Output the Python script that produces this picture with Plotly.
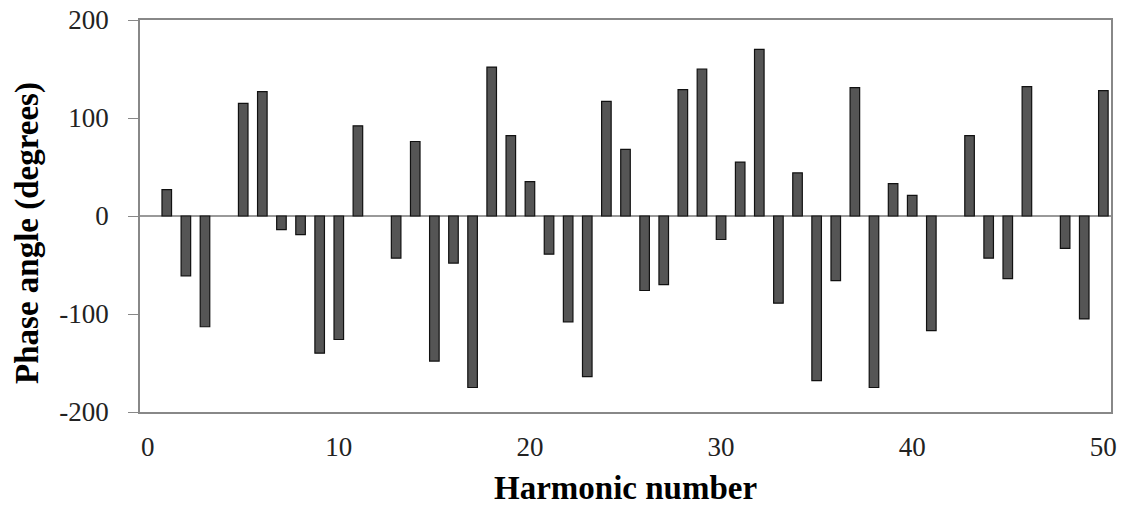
import plotly.graph_objects as go

harmonics = list(range(1, 51))
# None = no visible bar at that harmonic
phase = [27, -61, -113, None, 115, 127, -14, -19, -140, -126,
         92, None, -43, 76, -148, -48, -175, 152, 82, 35,
         -39, -108, -164, 117, 68, -76, -70, 129, 150, -24,
         55, 170, -89, 44, -168, -66, 131, -175, 33, 21,
         -117, None, 82, -43, -64, 132, None, -33, -105, 128]

y_ticks = [-200, -100, 0, 100, 200]
y_tick_text = ['-200', '-100', '0', '100', '200']
x_ticks = [0, 10, 20, 30, 40, 50]

serif = 'Liberation Serif, Times New Roman, serif'
tick_font = dict(family=serif, size=27, color='#222222')
title_font = dict(family=serif, size=33, color='black')

fig = go.Figure()

fig.add_trace(go.Bar(
    x=harmonics,
    y=phase,
    width=0.5,
    marker=dict(color='#555555', line=dict(color='#111111', width=1.2)),
))

fig.update_layout(
    width=1123,
    height=508,
    plot_bgcolor='white',
    paper_bgcolor='white',
    showlegend=False,
    margin=dict(l=140, r=12, t=20, b=96),
    font=dict(family=serif, size=27, color='black'),
)

# axis titles as annotations so they sit where the original has them
fig.add_annotation(
    text='<b>Harmonic number</b>', font=title_font,
    xref='paper', yref='paper', x=0.5, y=-0.195,
    xanchor='center', yanchor='middle', showarrow=False, borderpad=0,
)
fig.add_annotation(
    text='<b>Phase angle (degrees)</b>', font=title_font, textangle=-90,
    xref='paper', yref='paper', x=-0.1153, y=0.457,
    xanchor='center', yanchor='middle', showarrow=False,
)

fig.update_xaxes(
    range=[-0.4, 50.4],
    tickvals=x_ticks,
    showgrid=False,
    zeroline=False,
    showline=True,
    linecolor='#888888',
    linewidth=1.5,
    mirror=True,
    ticks='',
    ticklabelstandoff=10,
    tickfont=tick_font,
    automargin=False,
)

fig.update_yaxes(
    range=[-200, 200],
    tickvals=y_ticks,
    ticktext=y_tick_text,
    showgrid=False,
    zeroline=True,
    zerolinecolor='#999999',
    zerolinewidth=1.5,
    showline=True,
    linecolor='#888888',
    linewidth=1.5,
    mirror=True,
    ticks='outside',
    ticklen=10,
    tickcolor='#888888',
    ticklabelstandoff=14,
    tickfont=tick_font,
    automargin=False,
)

fig.write_html("out.html", config={'displayModeBar': False},
               post_script="document.body.style.margin='0';")
